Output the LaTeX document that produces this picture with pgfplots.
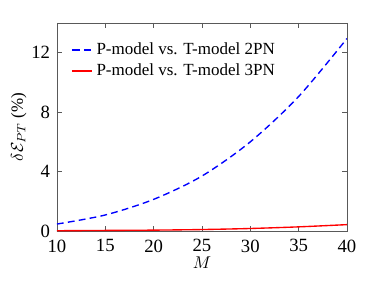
\documentclass[border=0pt]{standalone}
\usepackage{fontspec}
\setmainfont{Liberation Serif}
\usepackage{pgfplots}
\pgfplotsset{compat=1.18}
\usetikzlibrary{calc}
\begin{document}
\begin{tikzpicture}
\begin{axis}[name=ax,
  scale only axis, width=170.6pt, height=122.4pt,
  xmin=10, xmax=40, ymin=0, ymax=14,
  xtick={10,15,...,40}, ytick={0,4,8,12},
  tick align=inside, major tick length=3pt,
  tick pos=both,
  axis line style={gray!70!black}, tick style={gray!70!black},
  tick label style={font=\fontsize{11}{12}\selectfont},
  xticklabel style={yshift=-1.5pt},
  yticklabel style={xshift=-0.5pt},
  /pgf/number format/assume math mode=true,
  xlabel={$M$}, ylabel={$\delta\mathcal{E}_{PT}$ (\%)},
  xlabel style={yshift=4pt}, ylabel style={yshift=-4pt},
  legend style={draw=none, fill=none, at={(0.03,0.94)}, anchor=north west},
  legend cell align=left,
]
\addlegendimage{legend image code/.code={\draw[blue, line width=1pt, dash pattern=on 4.5pt off 2.5pt] (0cm,0cm) -- (0.42cm,0cm);}}
\addlegendentry{P-model vs. T-model 2PN}
\addlegendimage{legend image code/.code={\draw[red, line width=1pt] (0cm,0cm) -- (0.42cm,0cm);}}
\addlegendentry{P-model vs. T-model 3PN}
\addplot[blue, thick, dash pattern=on 4pt off 2.5pt, smooth, forget plot] coordinates {
(10,0.47) (15,1.08) (20,2.13) (25,3.7) (30,6.0) (35,9.05) (40,12.95)};
\addplot[red, thick, smooth, forget plot] coordinates {
(10,0.02) (15,0.04) (20,0.06) (25,0.1) (30,0.17) (35,0.28) (40,0.43)};
\end{axis}
\path ($(ax.south west)+(-33.5pt,-34.1pt)$) ($(ax.north east)+(15.9pt,13.5pt)$);
\end{tikzpicture}
\end{document}
